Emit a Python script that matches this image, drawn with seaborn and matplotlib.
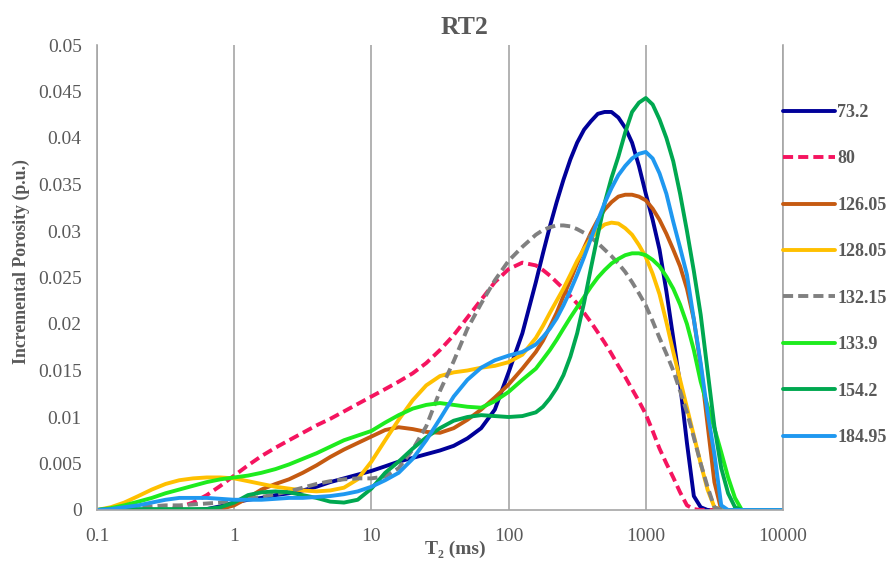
import matplotlib
matplotlib.use("Agg")
import matplotlib.pyplot as plt
from matplotlib.lines import Line2D
import numpy as np
import pandas as pd
import seaborn as sns

# ---------------- data ----------------
# coarse T2 grid (ms)
T2 = [0.1, 0.126, 0.158, 0.2, 0.251, 0.316, 0.398, 0.501, 0.631, 0.794,
      1, 1.26, 1.58, 2, 2.51, 3.16, 3.98, 5.01, 6.31, 7.94,
      10, 12.6, 15.8, 20, 25.1, 31.6, 39.8, 50.1, 63.1, 79.4,
      100, 126, 158, 200, 251, 316, 398, 501, 631, 794,
      1000, 1259, 1585, 1995, 2512, 3162, 3981, 5012, 6310, 7943, 10000]
# extra readings in the steep peak region (ms)
T2_fine = [178, 224, 282, 355, 447, 562, 708, 891, 1122, 1413, 1778, 2239, 2818, 3548, 4467]

s73_2 = [0, 0, 0, 0, 0, 0, 0, 0, 0.0001, 0.0004,
         0.0008, 0.0011, 0.0013, 0.0016, 0.0018, 0.0021, 0.0025, 0.0030, 0.0034, 0.0038,
         0.0042, 0.0047, 0.0052, 0.0056, 0.0060, 0.0064, 0.0069, 0.0077, 0.0088, 0.0108,
         0.0148, 0.0190, 0.0245, 0.0305, 0.0355, 0.0395, 0.0418, 0.0428, 0.0422, 0.0395,
         0.0340, 0.0280, 0.0185, 0.0072, 0.0003, 0, 0, 0, 0, 0, 0]
s73_2_fine = [0.0276, 0.0331, 0.0377, 0.0409, 0.0426, 0.0428, 0.0411, 0.0370,
              0.0312, 0.0235, 0.0135, 0.0015, 0, 0, 0]

s80 = [0, 0, 0, 0, 0, 0, 0.0003, 0.0008, 0.0016, 0.0026,
       0.0037, 0.0048, 0.0058, 0.0067, 0.0075, 0.0083, 0.0091, 0.0098, 0.0106, 0.0114,
       0.0122, 0.0130, 0.0138, 0.0147, 0.0158, 0.0172, 0.0188, 0.0207, 0.0226, 0.0245,
       0.0259, 0.0266, 0.0263, 0.0252, 0.0238, 0.0222, 0.0202, 0.0180, 0.0155, 0.0130,
       0.0103, 0.0066, 0.0035, 0.0005, 0, 0, 0, 0, 0, 0, 0]
s80_fine = [0.0258, 0.0245, 0.0230, 0.0212, 0.0191, 0.0168, 0.0143, 0.0117,
            0.0085, 0.0050, 0.0019, 0.0001, 0, 0, 0]

s126_05 = [0, 0, 0, 0, 0, 0, 0, 0, 0, 0.0001,
           0.0005, 0.0013, 0.0022, 0.0028, 0.0033, 0.0040, 0.0048, 0.0057, 0.0065, 0.0072,
           0.0079, 0.0086, 0.0089, 0.0087, 0.0084, 0.0083, 0.0088, 0.0097, 0.0108, 0.0121,
           0.0135, 0.0152, 0.0170, 0.0197, 0.0230, 0.0265, 0.0298, 0.0323, 0.0337, 0.0339,
           0.0333, 0.0312, 0.0280, 0.0238, 0.0155, 0.0030, 0, 0, 0, 0, 0]
s126_05_fine = [0.0182, 0.0212, 0.0247, 0.0282, 0.0312, 0.0331, 0.0339, 0.0337,
                0.0324, 0.0297, 0.0262, 0.0205, 0.0092, 0, 0]

s128_05 = [0, 0.0003, 0.0008, 0.0015, 0.0022, 0.0028, 0.0032, 0.0034, 0.0035, 0.0035,
           0.0034, 0.0031, 0.0028, 0.0025, 0.0023, 0.0021, 0.0020, 0.0021, 0.0024, 0.0033,
           0.0052, 0.0075, 0.0097, 0.0118, 0.0134, 0.0144, 0.0148, 0.0150, 0.0153, 0.0155,
           0.0159, 0.0167, 0.0185, 0.0212, 0.0238, 0.0268, 0.0292, 0.0307, 0.0308, 0.0296,
           0.0272, 0.0232, 0.0170, 0.0110, 0.0050, 0.0003, 0, 0, 0, 0, 0]
s128_05_fine = [0.0198, 0.0225, 0.0253, 0.0281, 0.0301, 0.0309, 0.0303, 0.0285,
                0.0254, 0.0202, 0.0140, 0.0080, 0.0022, 0, 0]

s132_15 = [0, 0.0001, 0.0002, 0.0003, 0.0004, 0.0005, 0.0005, 0.0006, 0.0007, 0.0008,
           0.0010, 0.0012, 0.0014, 0.0017, 0.0020, 0.0024, 0.0028, 0.0031, 0.0033, 0.0034,
           0.0034, 0.0036, 0.0045, 0.0065, 0.0090, 0.0128, 0.0160, 0.0195, 0.0222, 0.0247,
           0.0268, 0.0283, 0.0296, 0.0304, 0.0306, 0.0302, 0.0293, 0.0280, 0.0265, 0.0245,
           0.0220, 0.0185, 0.0150, 0.0105, 0.0050, 0.0003, 0, 0, 0, 0, 0]
s132_15_fine = [0.0301, 0.0306, 0.0305, 0.0298, 0.0287, 0.0273, 0.0256, 0.0233,
                0.0203, 0.0168, 0.0128, 0.0078, 0.0025, 0, 0]

s133_9 = [0, 0.0002, 0.0005, 0.0009, 0.0013, 0.0018, 0.0022, 0.0026, 0.0030, 0.0033,
          0.0035, 0.0037, 0.0040, 0.0044, 0.0049, 0.0055, 0.0061, 0.0068, 0.0075, 0.0080,
          0.0085, 0.0094, 0.0102, 0.0109, 0.0113, 0.0115, 0.0113, 0.0111, 0.0110, 0.0117,
          0.0127, 0.0140, 0.0152, 0.0172, 0.0195, 0.0218, 0.0240, 0.0258, 0.0270, 0.0276,
          0.0274, 0.0262, 0.0238, 0.0200, 0.0138, 0.0088, 0.0035, 0, 0, 0, 0]
s133_9_fine = [0.0162, 0.0183, 0.0207, 0.0229, 0.0250, 0.0265, 0.0274, 0.0276,
               0.0269, 0.0251, 0.0221, 0.0172, 0.0112, 0.0062, 0.0013]

s154_2 = [0, 0.0001, 0.0001, 0.0001, 0.0001, 0.0001, 0.0001, 0.0001, 0.0001, 0.0003,
          0.0008, 0.0016, 0.0019, 0.0020, 0.0019, 0.0016, 0.0013, 0.0009, 0.0008, 0.0011,
          0.0023, 0.0040, 0.0052, 0.0066, 0.0078, 0.0088, 0.0096, 0.0100, 0.0102, 0.0101,
          0.0100, 0.0101, 0.0105, 0.0120, 0.0145, 0.0190, 0.0260, 0.0330, 0.0380, 0.0428,
          0.0443, 0.0420, 0.0375, 0.0300, 0.0210, 0.0090, 0.0018, 0, 0, 0, 0]
s154_2_fine = [0.0111, 0.0131, 0.0165, 0.0223, 0.0296, 0.0357, 0.0406, 0.0438,
               0.0436, 0.0400, 0.0340, 0.0257, 0.0150, 0.0045, 0.0003]

s184_95 = [0, 0.0001, 0.0003, 0.0005, 0.0008, 0.0011, 0.0013, 0.0013, 0.0013, 0.0012,
           0.0011, 0.0011, 0.0011, 0.0012, 0.0013, 0.0013, 0.0014, 0.0015, 0.0017, 0.0020,
           0.0025, 0.0032, 0.0040, 0.0055, 0.0075, 0.0098, 0.0122, 0.0140, 0.0153, 0.0161,
           0.0166, 0.0170, 0.0178, 0.0195, 0.0220, 0.0253, 0.0292, 0.0330, 0.0360, 0.0378,
           0.0385, 0.0362, 0.0310, 0.0253, 0.0158, 0.0060, 0, 0, 0, 0, 0]
s184_95_fine = [0.0186, 0.0206, 0.0236, 0.0272, 0.0311, 0.0346, 0.0370, 0.0383,
                0.0378, 0.0340, 0.0282, 0.0205, 0.0105, 0.0005, 0]

sample_names = ["73.2", "80", "126.05", "128.05", "132.15", "133.9", "154.2", "184.95"]
sample_values = [s73_2, s80, s126_05, s128_05, s132_15, s133_9, s154_2, s184_95]
sample_values_fine = [s73_2_fine, s80_fine, s126_05_fine, s128_05_fine,
                      s132_15_fine, s133_9_fine, s154_2_fine, s184_95_fine]
sample_colors = ["#000099", "#F5145F", "#C55A11", "#FFC000", "#808080", "#1EEB1E", "#00A850", "#1F98F0"]
dashed_samples = ["80", "132.15"]

x_ticks = [0.1, 1, 10, 100, 1000, 10000]
x_tick_labels = ["0.1", "1", "10", "100", "1000", "10000"]
y_ticks = [0, 0.005, 0.01, 0.015, 0.02, 0.025, 0.03, 0.035, 0.04, 0.045, 0.05]
y_tick_labels = ["0", "0.005", "0.01", "0.015", "0.02", "0.025", "0.03", "0.035", "0.04", "0.045", "0.05"]

# ---------------- build table ----------------
frames = []
for name, vals, fine in zip(sample_names, sample_values, sample_values_fine):
    frames.append(pd.DataFrame({"T2": T2 + T2_fine, "phi": vals + fine, "sample": name}))
df = pd.concat(frames, ignore_index=True)

sns.set_theme(style="white")
plt.rcParams["font.family"] = ["Liberation Serif", "DejaVu Serif"]

TXT = "#595959"
GRID = "#A6A6A6"
LW = 2.8
DASH = (2.6, 1.3)

fig = plt.figure(figsize=(8.92, 5.63), dpi=100)
ax = fig.add_axes([97 / 892, 1 - 510 / 563, (783 - 97) / 892, (510 - 45) / 563])

palette = dict(zip(sample_names, sample_colors))
dashes = {n: (DASH if n in dashed_samples else "") for n in sample_names}

sns.lineplot(data=df, x="T2", y="phi", hue="sample", style="sample",
             hue_order=sample_names, style_order=sample_names,
             palette=palette, dashes=dashes, linewidth=LW,
             estimator=None, sort=True, legend=False, ax=ax)
for ln in ax.get_lines():
    ln.set_solid_joinstyle("round")
    ln.set_dash_joinstyle("round")

ax.set_xscale("log")
ax.set_xlim(0.1, 10000)
ax.set_ylim(0, 0.05)
ax.set_xticks(x_ticks)
ax.set_xticklabels(x_tick_labels)
ax.xaxis.set_minor_locator(matplotlib.ticker.NullLocator())
ax.set_yticks(y_ticks)
ax.set_yticklabels(y_tick_labels)

ax.grid(False)
ax.grid(axis="x", which="major", color=GRID, linewidth=1.2)
ax.set_axisbelow(True)
for side in ["left", "right", "bottom"]:
    ax.spines[side].set_visible(True)
    ax.spines[side].set_color(GRID)
    ax.spines[side].set_linewidth(1.2)
ax.spines["top"].set_visible(False)

ax.tick_params(axis="both", length=0, labelsize=14, colors=TXT)
ax.tick_params(axis="y", pad=11)
ax.tick_params(axis="x", pad=13)

ax.set_title("RT2", fontsize=18.5, fontweight="bold", color=TXT, pad=8, x=0.536)
ax.set_xlabel("T\u2082 (ms)", fontsize=14, fontweight="bold", color=TXT)
ax.xaxis.set_label_coords(0.523, -0.066)
ax.set_ylabel("Incremental Porosity (p.u.)", fontsize=12.8, fontweight="bold", color=TXT)
ax.yaxis.set_label_coords(-0.0977, 0.535)

handles = []
for n, c in zip(sample_names, sample_colors):
    if n in dashed_samples:
        handles.append(Line2D([], [], color=c, linewidth=LW, dashes=DASH))
    else:
        handles.append(Line2D([], [], color=c, linewidth=LW))

fig.legend(handles, sample_names, loc="upper left",
           bbox_to_anchor=(783 / 892, 1 - 104 / 563),
           frameon=False, borderpad=0, borderaxespad=0,
           handlelength=2.9, handletextpad=0.1, labelspacing=1.63,
           prop={"weight": "bold", "size": 13}, labelcolor=TXT)

fig.savefig("out.png", dpi=100)
